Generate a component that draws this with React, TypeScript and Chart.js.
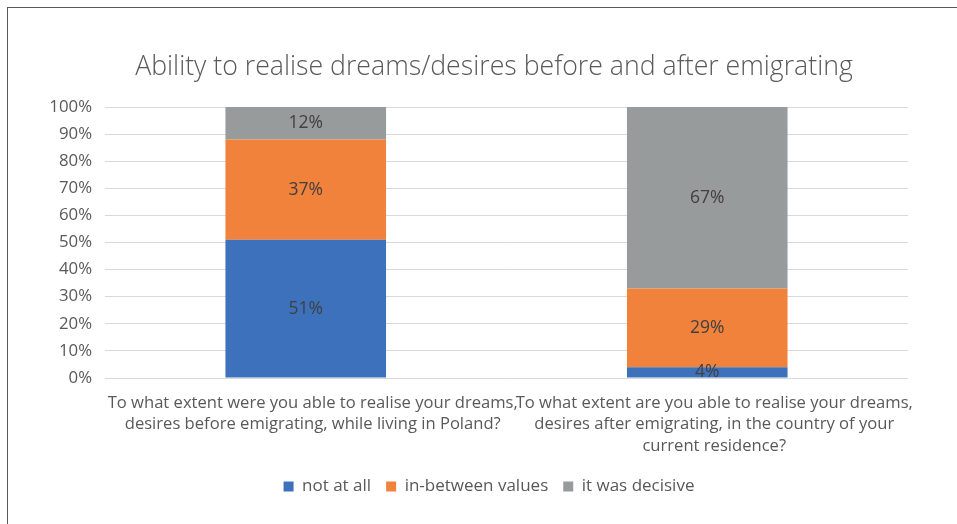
import React, { useEffect, useRef } from "react";
import { Chart, registerables } from "chart.js";

Chart.register(...registerables);

const TITLE = "Ability to realise dreams/desires before and after emigrating";
const CATEGORIES: string[][] = [
  ["To what extent were you able to realise your dreams,", "desires before emigrating, while living in Poland?"],
  ["To what extent are you able to realise your dreams,", "desires after emigrating, in the country of your", "current residence?"],
];
const SERIES_NAMES = ["not at all", "in-between values", "it was decisive"];
const NOT_AT_ALL = [51, 4];
const IN_BETWEEN = [37, 29];
const DECISIVE = [12, 67];
const COLORS = ["#3e71bb", "#f1823b", "#989b9b"];
const Y_TICKS = [0, 10, 20, 30, 40, 50, 60, 70, 80, 90, 100];

const FONT = "'Open Sans', 'Noto Sans', sans-serif";
const TEXT = "#595959";

const dataLabels = {
  id: "dataLabels",
  afterDatasetsDraw(chart: any) {
    const ctx = chart.ctx;
    ctx.save();
    ctx.font = `17.5px ${FONT}`;
    ctx.fillStyle = "#404040";
    ctx.textAlign = "center";
    ctx.textBaseline = "middle";
    chart.data.datasets.forEach((ds: any, i: number) => {
      const meta = chart.getDatasetMeta(i);
      meta.data.forEach((el: any, j: number) => {
        const v = ds.data[j];
        const y = (el.y + el.base) / 2;
        ctx.fillText(v + "%", el.x, y);
      });
    });
    ctx.restore();
  },
};

// Excel centres title and legend on the whole chart frame, not on the plot box
const shiftBlocks = {
  id: "shiftBlocks",
  afterLayout(chart: any) {
    const t = chart.titleBlock;
    if (t) {
      t.left += 36;
      t.right += 36;
    }
    const l = chart.legend;
    if (l) {
      l.left += 31;
      l.right += 31;
    }
  },
};

export default function App() {
  const ref = useRef<HTMLCanvasElement>(null);
  useEffect(() => {
    if (!ref.current) return;
    const chart = new Chart(ref.current, {
      type: "bar",
      data: {
        labels: CATEGORIES as any,
        datasets: [NOT_AT_ALL, IN_BETWEEN, DECISIVE].map((d, i) => ({
          label: SERIES_NAMES[i],
          data: d,
          backgroundColor: COLORS[i],
          borderWidth: 0,
          categoryPercentage: 0.8,
          barPercentage: 0.5,
        })),
      },
      options: {
        responsive: false,
        animation: false,
        layout: { padding: { left: 8, right: 49, top: 0, bottom: 19 } },
        plugins: {
          title: {
            display: true,
            text: TITLE,
            color: TEXT,
            font: { family: FONT, size: 26.7, weight: "300" as any, lineHeight: 1.2 },
            padding: { top: 51, bottom: 24 },
          },
          legend: {
            position: "bottom",
            labels: {
              boxWidth: 10,
              boxHeight: 10,
              color: TEXT,
              padding: 15,
              font: { family: FONT, size: 17 },
            },
          },
          tooltip: { enabled: false },
        },
        scales: {
          x: {
            stacked: true,
            grid: { display: false, drawTicks: false },
            border: { display: false },
            ticks: {
              color: TEXT,
              font: { family: FONT, size: 16.6, lineHeight: 1.3 },
              maxRotation: 0,
              autoSkip: false,
              padding: 14,
              labelOffset: 7,
            },
            afterFit: (s: any) => {
              s.height = 85;
            },
          },
          y: {
            stacked: true,
            min: 0,
            max: 100,
            afterBuildTicks: (s: any) => {
              s.ticks = Y_TICKS.map((v) => ({ value: v }));
            },
            grid: { color: "#d9d9d9", drawTicks: false, lineWidth: 1 },
            border: { display: false },
            ticks: {
              color: TEXT,
              font: { family: FONT, size: 16.8 },
              padding: 13,
              callback: (v: any) => v + "%",
            },
            afterFit: (s: any) => {
              s.width = 97;
            },
          },
        },
      },
      plugins: [dataLabels, shiftBlocks],
    });
    return () => chart.destroy();
  }, []);
  return (
    <>
      <div
        style={{
          position: "fixed",
          left: 7,
          top: 7,
          width: 1000,
          height: 1000,
          borderLeft: "1px solid #595959",
          borderTop: "1px solid #595959",
          boxSizing: "border-box",
        }}
      />
      <canvas
        ref={ref}
        width={957}
        height={524}
        style={{ position: "fixed", left: 0, top: 0, width: 957, height: 524 }}
      />
    </>
  );
}
